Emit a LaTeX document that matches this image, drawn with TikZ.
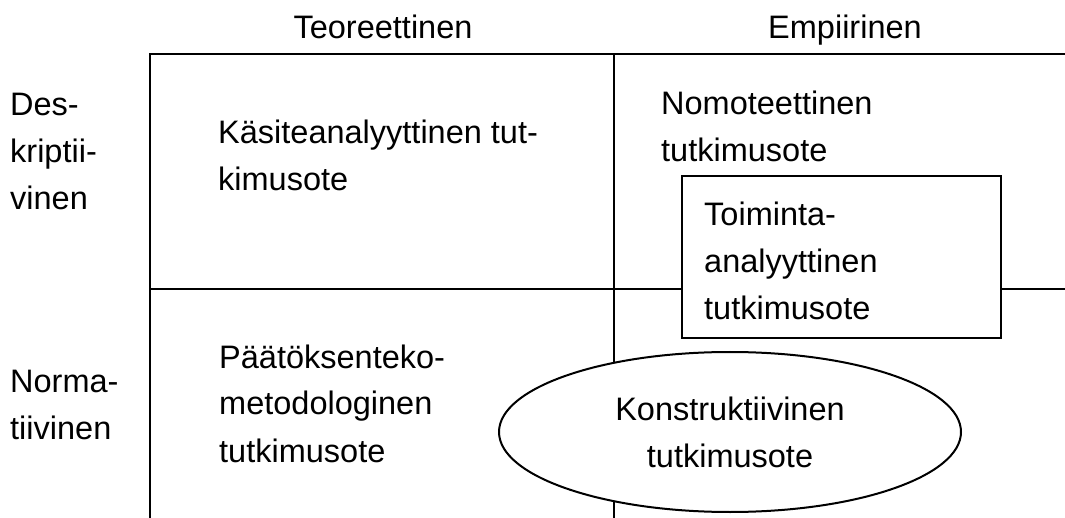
\documentclass[tikz,border=0pt]{standalone}
\usepackage{fontspec}
\setmainfont{Liberation Sans}
\usetikzlibrary{shapes.geometric}
\newcommand\mlines[1]{\begin{tabular}[t]{@{}l@{}}#1\end{tabular}}
\begin{document}
\begin{tikzpicture}[x=1pt,y=-1pt,
  txt/.style={inner sep=0pt, font=\fontsize{32.5}{47}\selectfont, anchor=base west},
  gridline/.style={line width=2pt, line cap=rect},
  boxshape/.style={draw, line width=2pt, fill=white, minimum width=319pt, minimum height=162pt, inner sep=0pt},
  ellshape/.style={ellipse, draw, line width=2pt, fill=white, minimum width=462pt, minimum height=160pt, inner sep=0pt, align=center, font=\fontsize{32.5}{47}\selectfont}]
\useasboundingbox (0,0) rectangle (1065,518);
\fill[white] (0,0) rectangle (1065,518);
% grid
\coordinate (tl) at (150,54);
\coordinate (tr) at (1066,54);
\coordinate (bl) at (150,519);
\coordinate (mt) at (614,54);
\coordinate (mb) at (614,519);
\coordinate (ml) at (150,289);
\coordinate (mr) at (1066,289);
\draw[gridline] (tr) -- (tl) -- (bl);
\draw[gridline] (mt) -- (mb);
\draw[gridline] (ml) -- (mr);
% overlapping shapes
\node[boxshape] (toimbox) at (841.5,257) {};
\node[ellshape] (konst) at (730,432) {Konstruktiivinen\\tutkimusote};
% column and row headings
\node[txt, anchor=base] (teo) at (383,39) {Teoreettinen};
\node[txt, anchor=base] (emp) at (845,39) {Empiirinen};
\node[txt] (desk) at (10,116) {\mlines{Des-\\kriptii-\\vinen}};
\node[txt] (norm) at (10,392) {\mlines{Norma-\\tiivinen}};
% cell texts
\node[txt] (kasite) at (218,144) {\mlines{Käsiteanalyyttinen tut-\\kimusote}};
\node[txt] (nomo) at (661,115) {\mlines{Nomoteettinen\\tutkimusote}};
\node[txt] (toimtxt) at (704,226) {\mlines{Toiminta-\\analyyttinen\\tutkimusote}};
\node[txt] (paat) at (219,368) {\mlines{Päätöksenteko-\\metodologinen\\tutkimusote}};
\end{tikzpicture}
\end{document}
